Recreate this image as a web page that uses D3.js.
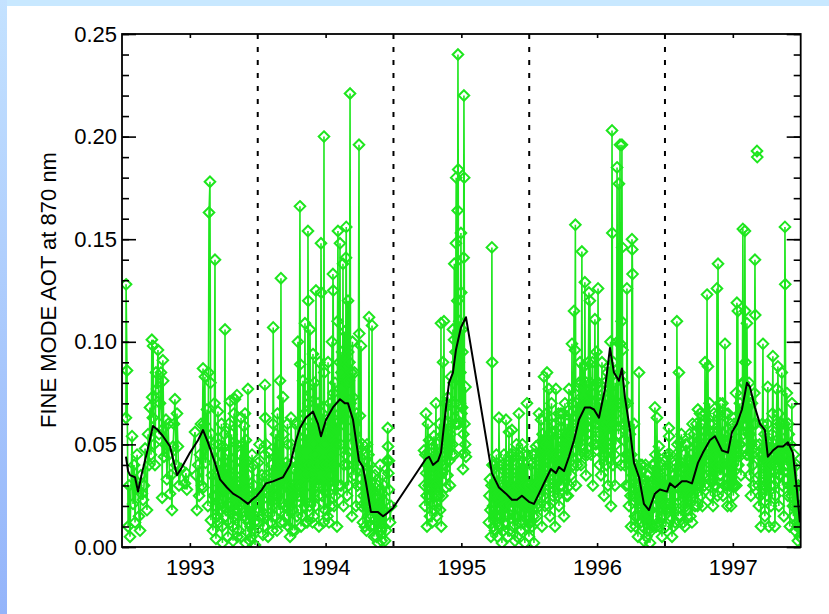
<!DOCTYPE html>
<html>
<head>
<meta charset="utf-8">
<script src="https://cdn.jsdelivr.net/npm/d3@7"></script>
<style>
  html, body { margin: 0; padding: 0; background: #fff; }
  svg { display: block; }
</style>
</head>
<body>
<svg id="chart"></svg>
<script>
// Fine mode AOT at 870 nm, daily values: [decimal year, AOT]; null = missing stretch
const fineMode = [
  [1992.529,.063],[1992.530,.128],[1992.537,.086],[1992.552,.030],[1992.559,.005],[1992.574,.054],[1992.581,.021],[1992.596,.012],[1992.603,.030],[1992.618,.028],[1992.625,.015],[1992.633,.008],[1992.647,.026],[1992.655,.023],[1992.670,.048],[1992.684,.018],[1992.699,.040],[1992.706,.068],[1992.714,.045],[1992.720,.101],[1992.722,.073],[1992.727,.063],[1992.729,.098],[1992.743,.040],[1992.758,.077],[1992.765,.096],[1992.773,.055],[1992.780,.070],[1992.787,.085],[1992.794,.057],[1992.796,.024],[1992.801,.091],[1992.803,.081],[1992.809,.044],[1992.817,.050],[1992.824,.062],[1992.831,.033],[1992.846,.045],[1992.854,.026],[1992.868,.018],[1992.876,.049],[1992.890,.072],[1992.898,.040],[1992.905,.065],[1992.912,.049],[1992.935,.038],[1992.964,.031],[1992.971,.036],[1992.978,.028],
  [1992.545,.010],[1992.589,.040],[1992.611,.045],[1992.640,.035],[1992.662,.030],[1992.692,.055],[1992.736,.050],[1992.750,.085],[1992.840,.060],[1992.861,.035],[1992.883,.060],[1992.920,.030],
  [1993.038,.056],[1993.052,.018],[1993.075,.045],[1993.089,.030],[1993.097,.087],[1993.100,.029],[1993.104,.060],[1993.111,.083],[1993.115,.041],[1993.126,.067],[1993.133,.020],[1993.141,.163],[1993.148,.178],[1993.152,.080],[1993.155,.013],[1993.163,.035],[1993.170,.008],[1993.178,.050],[1993.185,.140],[1993.189,.020],[1993.192,.004],[1993.196,.025],[1993.200,.035],[1993.207,.066],[1993.215,.012],[1993.222,.021],[1993.226,.030],[1993.229,.045],[1993.237,.010],[1993.240,.002],[1993.244,.049],[1993.251,.028],[1993.259,.106],[1993.262,.015],[1993.266,.038],[1993.270,.018],[1993.273,.033],[1993.281,.005],[1993.288,.060],[1993.292,.026],[1993.296,.071],[1993.299,.012],[1993.303,.040],[1993.310,.025],[1993.314,.010],[1993.318,.003],[1993.325,.065],[1993.332,.072],[1993.336,.035],[1993.340,.018],[1993.347,.074],[1993.354,.030],[1993.358,.015],[1993.362,.008],[1993.369,.045],[1993.377,.063],[1993.380,.005],[1993.384,.022],[1993.391,.024],[1993.395,.040],[1993.399,.059],[1993.406,.065],[1993.410,.002],[1993.413,.052],[1993.417,.041],[1993.421,.014],[1993.425,.028],[1993.428,.077],[1993.432,.012],[1993.435,.035],[1993.443,.003],[1993.447,.010],[1993.450,.020],[1993.458,.045],[1993.462,.025],[1993.465,.008],[1993.472,.030],[1993.476,.012],[1993.480,.001],[1993.487,.018],
  [1993.045,.035],[1993.060,.040],[1993.068,.025],[1993.082,.060],[1993.119,.050],[1993.137,.085],[1993.159,.055],[1993.174,.025],[1993.181,.070],[1993.203,.015],[1993.211,.050],[1993.218,.040],[1993.233,.060],[1993.248,.020],[1993.255,.055],[1993.277,.045],[1993.284,.020],[1993.307,.055],[1993.321,.030],[1993.329,.015],[1993.343,.050],[1993.351,.005],[1993.366,.030],[1993.373,.020],[1993.388,.050],[1993.402,.015],[1993.439,.020],[1993.454,.005],[1993.469,.040],[1993.483,.025],
  [1993.502,.041],[1993.510,.012],[1993.517,.018],[1993.524,.028],[1993.531,.035],[1993.538,.006],[1993.546,.010],[1993.553,.079],[1993.555,.063],[1993.561,.050],[1993.568,.020],[1993.576,.005],[1993.583,.046],[1993.590,.030],[1993.598,.012],[1993.605,.022],[1993.612,.060],[1993.614,.107],[1993.620,.025],[1993.627,.044],[1993.634,.055],[1993.642,.008],[1993.649,.040],[1993.656,.018],[1993.664,.081],[1993.671,.131],[1993.679,.022],[1993.686,.073],[1993.693,.012],[1993.701,.035],[1993.708,.041],[1993.715,.015],[1993.722,.050],[1993.730,.028],[1993.738,.005],[1993.745,.063],[1993.752,.030],[1993.760,.018],[1993.767,.038],[1993.774,.008],[1993.782,.045],[1993.789,.015],[1993.796,.100],[1993.804,.025],[1993.811,.166],[1993.813,.089],[1993.819,.010],[1993.826,.050],[1993.833,.081],[1993.841,.020],[1993.848,.109],[1993.855,.035],[1993.863,.012],[1993.870,.154],[1993.872,.120],[1993.878,.040],[1993.885,.106],[1993.892,.022],[1993.900,.060],[1993.907,.094],[1993.914,.015],[1993.922,.045],[1993.929,.125],[1993.937,.030],[1993.944,.070],[1993.951,.010],[1993.959,.055],[1993.966,.148],[1993.968,.124],[1993.973,.025],[1993.981,.040],[1993.988,.200],[1993.990,.085],[1993.996,.018],
  [1993.506,.025],[1993.513,.050],[1993.528,.015],[1993.542,.030],[1993.550,.045],[1993.565,.035],[1993.572,.015],[1993.587,.025],[1993.601,.040],[1993.609,.008],[1993.624,.015],[1993.638,.030],[1993.645,.065],[1993.653,.025],[1993.660,.050],[1993.668,.012],[1993.675,.040],[1993.690,.055],[1993.697,.020],[1993.712,.030],[1993.719,.060],[1993.727,.010],[1993.734,.040],[1993.742,.020],[1993.749,.050],[1993.756,.008],[1993.771,.025],[1993.778,.060],[1993.786,.030],[1993.793,.040],[1993.800,.060],[1993.815,.030],[1993.830,.015],[1993.837,.040],[1993.844,.065],[1993.852,.012],[1993.859,.055],[1993.867,.030],[1993.874,.070],[1993.882,.020],[1993.889,.075],[1993.896,.035],[1993.904,.012],[1993.911,.050],[1993.918,.080],[1993.926,.020],[1993.933,.060],[1993.940,.040],[1993.948,.025],[1993.955,.090],[1993.962,.030],[1993.977,.065],[1993.985,.012],[1993.993,.050],
  [1994.003,.060],[1994.010,.030],[1994.018,.090],[1994.025,.012],[1994.032,.070],[1994.040,.045],[1994.047,.100],[1994.054,.133],[1994.056,.125],[1994.062,.020],[1994.069,.080],[1994.077,.050],[1994.084,.010],[1994.088,.110],[1994.091,.154],[1994.099,.065],[1994.106,.148],[1994.113,.030],[1994.116,.085],[1994.121,.095],[1994.128,.138],[1994.136,.040],[1994.139,.105],[1994.143,.070],[1994.150,.141],[1994.152,.156],[1994.158,.025],[1994.160,.065],[1994.165,.120],[1994.167,.095],[1994.172,.081],[1994.176,.090],[1994.180,.221],[1994.184,.070],[1994.187,.050],[1994.194,.015],[1994.198,.100],[1994.202,.073],[1994.209,.035],[1994.213,.085],[1994.217,.060],[1994.220,.055],[1994.224,.020],[1994.231,.045],[1994.246,.196],[1994.248,.104],[1994.253,.064],[1994.261,.098],[1994.268,.030],[1994.275,.012],[1994.283,.036],[1994.290,.010],[1994.298,.031],[1994.305,.050],[1994.312,.015],[1994.320,.112],[1994.327,.040],[1994.334,.028],[1994.342,.108],[1994.349,.021],[1994.356,.005],[1994.364,.035],[1994.371,.018],[1994.379,.012],[1994.386,.002],[1994.393,.024],[1994.401,.040],[1994.408,.008],[1994.416,.026],[1994.423,.018],[1994.430,.030],[1994.438,.003],[1994.445,.008],[1994.452,.042],[1994.458,.058],[1994.460,.049],[1994.462,.036],[1994.465,.028],[1994.467,.042],[1994.475,.012],[1994.482,.020],
  [1994.007,.040],[1994.014,.015],[1994.021,.055],[1994.029,.035],[1994.036,.020],[1994.043,.060],[1994.051,.030],[1994.058,.075],[1994.066,.040],[1994.073,.025],[1994.080,.060],[1994.095,.030],[1994.102,.090],[1994.110,.050],[1994.125,.060],[1994.132,.020],[1994.147,.045],[1994.155,.080],[1994.163,.040],[1994.169,.030],[1994.190,.085],[1994.205,.040],[1994.228,.065],[1994.235,.030],[1994.240,.050],[1994.257,.040],[1994.264,.020],[1994.272,.050],[1994.279,.025],[1994.287,.045],[1994.294,.020],[1994.301,.008],[1994.309,.030],[1994.316,.045],[1994.323,.020],[1994.331,.010],[1994.338,.035],[1994.345,.015],[1994.353,.030],[1994.360,.010],[1994.367,.025],[1994.375,.005],[1994.382,.030],[1994.390,.015],[1994.397,.010],[1994.405,.020],[1994.412,.003],[1994.420,.035],[1994.427,.010],[1994.434,.022],
  [1994.600,null],
  [1994.725,.047],[1994.732,.020],[1994.739,.065],[1994.741,.036],[1994.747,.010],[1994.754,.060],[1994.762,.052],[1994.764,.024],[1994.769,.015],[1994.776,.040],[1994.791,.021],[1994.798,.054],[1994.806,.030],[1994.813,.070],[1994.815,.044],[1994.820,.015],[1994.828,.035],[1994.835,.025],[1994.850,.109],[1994.852,.010],[1994.857,.040],[1994.865,.090],[1994.872,.110],[1994.879,.050],[1994.887,.029],[1994.894,.060],[1994.901,.073],[1994.909,.052],[1994.911,.042],[1994.916,.030],[1994.924,.083],[1994.931,.045],[1994.938,.106],[1994.946,.101],[1994.948,.138],[1994.953,.060],[1994.960,.148],[1994.962,.180],[1994.968,.090],[1994.973,.164],[1994.975,.240],[1994.977,.184],[1994.982,.090],[1994.990,.070],[1994.997,.153],[1994.999,.124],[1995.004,.106],[1995.006,.068],[1995.012,.038],[1995.017,.141],[1995.019,.220],[1995.021,.180],[1995.025,.046],[1995.030,.078],[1995.034,.044],
  [1994.728,.030],[1994.735,.045],[1994.744,.025],[1994.750,.040],[1994.758,.030],[1994.767,.038],[1994.772,.028],[1994.780,.050],[1994.784,.012],[1994.787,.030],[1994.795,.040],[1994.802,.018],[1994.809,.045],[1994.818,.025],[1994.824,.050],[1994.831,.040],[1994.839,.060],[1994.843,.018],[1994.846,.035],[1994.861,.025],[1994.868,.055],[1994.876,.040],[1994.883,.070],[1994.890,.045],[1994.898,.035],[1994.905,.065],[1994.913,.050],[1994.920,.055],[1994.927,.070],[1994.935,.050],[1994.942,.080],[1994.950,.045],[1994.957,.095],[1994.965,.060],[1994.970,.120],[1994.980,.060],[1994.985,.110],[1994.993,.085],[1995.001,.065],[1995.008,.095],[1995.015,.055],[1995.023,.060],[1995.028,.050],
  [1995.120,null],
  [1995.203,.012],[1995.211,.033],[1995.218,.005],[1995.225,.146],[1995.227,.090],[1995.233,.020],[1995.240,.040],[1995.247,.008],[1995.255,.025],[1995.262,.015],[1995.270,.035],[1995.277,.063],[1995.284,.010],[1995.292,.030],[1995.299,.002],[1995.306,.020],[1995.314,.045],[1995.321,.012],[1995.329,.062],[1995.336,.025],[1995.343,.005],[1995.351,.056],[1995.358,.018],[1995.365,.035],[1995.373,.057],[1995.380,.010],[1995.387,.028],[1995.395,.003],[1995.402,.040],[1995.410,.015],[1995.424,.065],[1995.432,.022],[1995.439,.008],[1995.446,.035],[1995.454,.012],[1995.461,.045],[1995.468,.002],[1995.476,.020],[1995.483,.070],[1995.490,.030],
  [1995.207,.025],[1995.214,.018],[1995.222,.030],[1995.229,.040],[1995.236,.010],[1995.244,.030],[1995.251,.015],[1995.258,.045],[1995.266,.005],[1995.273,.020],[1995.281,.040],[1995.288,.015],[1995.295,.025],[1995.303,.040],[1995.310,.008],[1995.317,.030],[1995.325,.020],[1995.332,.040],[1995.340,.015],[1995.347,.030],[1995.354,.008],[1995.362,.045],[1995.369,.020],[1995.376,.030],[1995.384,.045],[1995.391,.015],[1995.398,.025],[1995.406,.050],[1995.413,.005],[1995.417,.030],[1995.421,.045],[1995.428,.012],[1995.435,.040],[1995.443,.025],[1995.450,.050],[1995.457,.020],[1995.465,.030],[1995.472,.040],[1995.480,.010],[1995.487,.045],[1995.494,.015],
  [1995.498,.005],[1995.506,.020],[1995.513,.040],[1995.520,.010],[1995.528,.030],[1995.535,.002],[1995.542,.045],[1995.550,.049],[1995.557,.015],[1995.564,.025],[1995.572,.065],[1995.579,.035],[1995.587,.062],[1995.594,.010],[1995.601,.040],[1995.609,.083],[1995.616,.020],[1995.623,.050],[1995.631,.085],[1995.638,.030],[1995.645,.077],[1995.653,.015],[1995.660,.045],[1995.668,.060],[1995.675,.025],[1995.682,.040],[1995.690,.010],[1995.697,.077],[1995.704,.035],[1995.712,.055],[1995.719,.020],[1995.726,.045],[1995.734,.065],[1995.741,.030],[1995.749,.050],[1995.756,.015],[1995.763,.070],[1995.771,.040],[1995.778,.060],[1995.785,.025],[1995.793,.077],[1995.800,.045],[1995.807,.035],[1995.815,.099],[1995.822,.055],[1995.830,.115],[1995.837,.096],[1995.840,.157],[1995.844,.030],[1995.851,.070],[1995.859,.050],[1995.866,.080],[1995.874,.090],[1995.881,.040],[1995.888,.144],[1995.896,.060],[1995.903,.088],[1995.910,.129],[1995.918,.035],[1995.925,.070],[1995.932,.055],[1995.940,.124],[1995.947,.120],[1995.955,.045],[1995.962,.075],[1995.969,.030],[1995.977,.065],[1995.984,.111],[1995.991,.050],[1995.999,.080],
  [1995.502,.030],[1995.509,.012],[1995.517,.025],[1995.524,.045],[1995.531,.015],[1995.539,.030],[1995.546,.020],[1995.553,.040],[1995.561,.030],[1995.568,.050],[1995.575,.020],[1995.583,.045],[1995.590,.030],[1995.598,.055],[1995.605,.025],[1995.612,.050],[1995.620,.035],[1995.627,.065],[1995.634,.045],[1995.642,.020],[1995.649,.055],[1995.656,.035],[1995.664,.070],[1995.671,.040],[1995.679,.055],[1995.686,.030],[1995.693,.060],[1995.701,.045],[1995.708,.025],[1995.715,.065],[1995.723,.040],[1995.730,.030],[1995.738,.055],[1995.745,.040],[1995.752,.065],[1995.760,.035],[1995.767,.050],[1995.774,.025],[1995.782,.045],[1995.789,.055],[1995.796,.030],[1995.804,.065],[1995.811,.050],[1995.818,.070],[1995.826,.040],[1995.833,.075],[1995.848,.060],[1995.855,.040],[1995.862,.065],[1995.870,.045],[1995.877,.060],[1995.885,.080],[1995.892,.050],[1995.899,.070],[1995.907,.045],[1995.914,.060],[1995.921,.080],[1995.929,.045],[1995.936,.090],[1995.943,.065],[1995.951,.080],[1995.958,.055],[1995.966,.090],[1995.973,.050],[1995.980,.070],[1995.988,.060],[1995.995,.095],
  [1996.007,.126],[1996.014,.050],[1996.021,.070],[1996.029,.035],[1996.036,.090],[1996.043,.060],[1996.051,.025],[1996.058,.080],[1996.066,.045],[1996.073,.065],[1996.080,.030],[1996.088,.088],[1996.095,.055],[1996.102,.020],[1996.110,.203],[1996.112,.153],[1996.114,.075],[1996.117,.040],[1996.124,.060],[1996.132,.030],[1996.139,.050],[1996.147,.185],[1996.154,.070],[1996.161,.177],[1996.169,.196],[1996.171,.099],[1996.176,.040],[1996.183,.196],[1996.185,.146],[1996.187,.096],[1996.191,.060],[1996.198,.052],[1996.205,.070],[1996.213,.030],[1996.220,.126],[1996.228,.045],[1996.235,.020],[1996.242,.055],[1996.250,.010],[1996.257,.150],[1996.259,.145],[1996.261,.133],[1996.264,.035],[1996.272,.060],[1996.279,.015],[1996.287,.040],[1996.294,.025],[1996.301,.005],[1996.309,.085],[1996.316,.030],[1996.323,.012],[1996.331,.040],[1996.338,.020],[1996.345,.003],[1996.353,.030],[1996.360,.015],[1996.368,.035],[1996.375,.008],[1996.382,.025],[1996.390,.002],[1996.397,.018],[1996.404,.030],[1996.412,.010],[1996.419,.040],[1996.426,.068],[1996.434,.020],[1996.441,.063],[1996.448,.012],[1996.456,.049],[1996.463,.041],[1996.471,.025],[1996.478,.005],[1996.485,.030],[1996.493,.015],
  [1996.003,.060],[1996.010,.080],[1996.018,.040],[1996.025,.055],[1996.032,.070],[1996.040,.045],[1996.047,.075],[1996.054,.050],[1996.062,.065],[1996.069,.040],[1996.077,.085],[1996.084,.050],[1996.091,.070],[1996.099,.100],[1996.106,.060],[1996.121,.090],[1996.128,.045],[1996.135,.080],[1996.143,.065],[1996.150,.100],[1996.158,.055],[1996.165,.085],[1996.173,.070],[1996.180,.110],[1996.194,.080],[1996.202,.040],[1996.209,.060],[1996.216,.045],[1996.224,.070],[1996.231,.030],[1996.239,.040],[1996.246,.025],[1996.253,.045],[1996.268,.025],[1996.276,.040],[1996.283,.010],[1996.290,.030],[1996.298,.015],[1996.305,.035],[1996.312,.020],[1996.320,.040],[1996.327,.025],[1996.334,.010],[1996.342,.030],[1996.349,.015],[1996.357,.040],[1996.364,.005],[1996.371,.020],[1996.379,.035],[1996.386,.012],[1996.393,.030],[1996.401,.008],[1996.408,.040],[1996.415,.020],[1996.423,.030],[1996.430,.045],[1996.437,.010],[1996.445,.035],[1996.452,.025],[1996.459,.010],[1996.467,.035],[1996.474,.015],[1996.482,.040],[1996.489,.020],[1996.496,.030],
  [1996.500,.042],[1996.507,.010],[1996.515,.025],[1996.522,.040],[1996.529,.058],[1996.531,.054],[1996.537,.015],[1996.544,.030],[1996.552,.005],[1996.559,.020],[1996.566,.035],[1996.574,.012],[1996.581,.045],[1996.588,.110],[1996.596,.025],[1996.603,.085],[1996.610,.051],[1996.618,.015],[1996.625,.039],[1996.633,.020],[1996.640,.045],[1996.647,.010],[1996.655,.030],[1996.662,.050],[1996.670,.018],[1996.677,.035],[1996.684,.025],[1996.692,.045],[1996.699,.012],[1996.706,.040],[1996.714,.055],[1996.721,.020],[1996.729,.050],[1996.736,.030],[1996.743,.067],[1996.750,.040],[1996.758,.065],[1996.765,.025],[1996.773,.050],[1996.780,.035],[1996.787,.060],[1996.795,.090],[1996.802,.045],[1996.810,.123],[1996.817,.088],[1996.824,.030],[1996.831,.060],[1996.839,.040],[1996.846,.055],[1996.854,.020],[1996.861,.065],[1996.868,.045],[1996.876,.030],[1996.883,.126],[1996.891,.138],[1996.898,.050],[1996.905,.070],[1996.913,.035],[1996.920,.060],[1996.928,.025],[1996.935,.055],[1996.942,.099],[1996.950,.045],[1996.957,.030],[1996.964,.065],[1996.972,.040],[1996.979,.055],[1996.987,.020],[1996.994,.050],
  [1996.504,.030],[1996.511,.020],[1996.518,.045],[1996.526,.030],[1996.533,.025],[1996.541,.045],[1996.548,.018],[1996.555,.035],[1996.563,.010],[1996.570,.040],[1996.577,.025],[1996.585,.030],[1996.592,.050],[1996.599,.015],[1996.607,.040],[1996.614,.030],[1996.621,.055],[1996.629,.030],[1996.636,.012],[1996.644,.035],[1996.651,.050],[1996.658,.020],[1996.666,.040],[1996.673,.028],[1996.681,.055],[1996.688,.015],[1996.695,.035],[1996.703,.060],[1996.710,.025],[1996.718,.040],[1996.725,.030],[1996.732,.060],[1996.740,.020],[1996.747,.050],[1996.754,.030],[1996.762,.045],[1996.769,.060],[1996.776,.020],[1996.784,.045],[1996.791,.030],[1996.798,.065],[1996.806,.035],[1996.813,.055],[1996.821,.045],[1996.828,.070],[1996.835,.025],[1996.843,.050],[1996.850,.035],[1996.857,.060],[1996.865,.030],[1996.872,.055],[1996.880,.040],[1996.887,.025],[1996.894,.065],[1996.902,.035],[1996.909,.050],[1996.916,.040],[1996.924,.070],[1996.931,.040],[1996.939,.030],[1996.946,.065],[1996.953,.050],[1996.961,.020],[1996.968,.050],[1996.975,.030],[1996.983,.060],[1996.990,.040],[1996.998,.030],
  [1997.001,.040],[1997.008,.060],[1997.015,.030],[1997.023,.075],[1997.030,.119],[1997.037,.115],[1997.045,.050],[1997.052,.070],[1997.060,.035],[1997.067,.065],[1997.074,.155],[1997.082,.080],[1997.089,.154],[1997.091,.115],[1997.097,.060],[1997.104,.109],[1997.111,.045],[1997.119,.080],[1997.126,.055],[1997.133,.025],[1997.141,.070],[1997.148,.040],[1997.155,.060],[1997.163,.140],[1997.165,.113],[1997.170,.050],
  [1997.004,.025],[1997.012,.050],[1997.019,.045],[1997.026,.030],[1997.034,.060],[1997.041,.040],[1997.048,.065],[1997.056,.050],[1997.063,.045],[1997.071,.080],[1997.078,.055],[1997.085,.060],[1997.093,.090],[1997.100,.045],[1997.108,.070],[1997.115,.055],[1997.122,.035],[1997.130,.070],[1997.137,.050],[1997.144,.045],[1997.152,.030],[1997.159,.075],[1997.168,.060],
  [1997.176,null],[1997.178,.193],[1997.180,.190],[1997.182,null],
  [1997.185,.045],[1997.192,.020],[1997.200,.035],[1997.207,.010],[1997.214,.040],[1997.222,.099],[1997.229,.030],[1997.236,.015],[1997.244,.050],[1997.251,.025],[1997.258,.078],[1997.266,.010],[1997.273,.040],[1997.281,.020],[1997.288,.055],[1997.295,.093],[1997.303,.030],[1997.310,.010],[1997.317,.045],[1997.325,.077],[1997.332,.088],[1997.339,.020],[1997.347,.060],[1997.354,.035],[1997.361,.085],[1997.369,.050],[1997.376,.015],[1997.384,.156],[1997.386,.128],[1997.391,.040],[1997.398,.075],[1997.406,.025],[1997.413,.055],[1997.420,.010],[1997.428,.035],[1997.435,.070],[1997.442,.020],[1997.450,.045],[1997.457,.008],[1997.464,.030],[1997.472,.012],[1997.479,.003],[1997.486,.020],[1997.494,.005],
  [1997.189,.030],[1997.196,.050],[1997.203,.025],[1997.211,.045],[1997.218,.060],[1997.225,.045],[1997.233,.055],[1997.240,.030],[1997.247,.040],[1997.255,.060],[1997.262,.035],[1997.269,.050],[1997.277,.030],[1997.284,.045],[1997.292,.065],[1997.299,.040],[1997.306,.050],[1997.314,.025],[1997.321,.060],[1997.328,.040],[1997.336,.065],[1997.343,.035],[1997.350,.050],[1997.358,.060],[1997.365,.030],[1997.372,.045],[1997.380,.060],[1997.394,.050],[1997.402,.040],[1997.409,.060],[1997.417,.030],[1997.424,.050],[1997.431,.025],[1997.439,.040],[1997.446,.015],[1997.453,.030],[1997.461,.020],[1997.468,.040],[1997.475,.010],[1997.483,.030],[1997.490,.010],[1997.497,.020]
]

// Running mean of the fine mode AOT
const runningMean = [
  [1992.529,.044],[1992.545,.037],[1992.559,.035],[1992.596,.034],[1992.618,.027],[1992.647,.036],[1992.684,.046],[1992.728,.059],[1992.765,.057],[1992.802,.054],[1992.854,.049],[1992.905,.035],[1992.942,.039],
  [1993.001,.046],[1993.060,.052],[1993.097,.057],[1993.133,.051],[1993.185,.041],[1993.222,.033],[1993.273,.029],[1993.318,.026],[1993.369,.024],[1993.428,.021],[1993.458,.023],[1993.494,.025],
  [1993.531,.028],[1993.561,.031],[1993.612,.032],[1993.686,.034],[1993.738,.040],[1993.782,.052],[1993.811,.058],[1993.855,.063],[1993.907,.066],[1993.944,.060],[1993.966,.054],
  [1994.003,.062],[1994.054,.068],[1994.106,.072],[1994.143,.070],[1994.165,.070],[1994.202,.062],[1994.246,.042],[1994.275,.039],[1994.298,.031],[1994.334,.017],[1994.386,.017],[1994.423,.015],[1994.445,.016],[1994.497,.019],
  [1994.739,.043],[1994.762,.044],[1994.791,.040],[1994.828,.042],[1994.850,.046],[1994.887,.068],[1994.909,.080],[1994.938,.085],[1994.960,.096],[1994.997,.107],[1995.034,.112],
  [1995.225,.036],[1995.277,.029],[1995.329,.026],[1995.373,.023],[1995.410,.023],[1995.446,.025],[1995.498,.022],
  [1995.535,.021],[1995.572,.026],[1995.623,.033],[1995.660,.038],[1995.697,.036],[1995.719,.039],[1995.756,.037],[1995.793,.044],[1995.830,.052],[1995.866,.062],[1995.910,.068],[1995.947,.068],[1995.977,.067],
  [1996.014,.063],[1996.058,.077],[1996.095,.097],[1996.124,.085],[1996.161,.081],[1996.183,.087],[1996.205,.073],[1996.242,.057],[1996.272,.041],[1996.309,.034],[1996.345,.021],[1996.382,.018],[1996.426,.026],[1996.463,.028],
  [1996.515,.027],[1996.537,.031],[1996.574,.029],[1996.625,.032],[1996.662,.032],[1996.699,.031],[1996.743,.041],[1996.780,.046],[1996.831,.052],[1996.868,.054],[1996.891,.051],[1996.920,.047],[1996.964,.046],[1996.994,.056],
  [1997.030,.060],[1997.067,.067],[1997.104,.080],[1997.126,.078],[1997.163,.068],[1997.200,.060],[1997.236,.057],[1997.258,.044],[1997.295,.047],[1997.332,.049],[1997.369,.049],[1997.406,.051],[1997.442,.046],[1997.472,.028],[1997.494,.012]
]

const yearTicks = [1993, 1994, 1995, 1996, 1997]
const seasonBreaks = [1993.5, 1994.5, 1995.5, 1996.5]
const aotTicks = [0, 0.05, 0.10, 0.15, 0.20, 0.25]
const aotMinorTicks = d3.range(0, 26).map(i => i / 100)

const width = 829
const height = 614
const plot = { left: 122, right: 800.7, top: 34, bottom: 547 }
const font = "'Liberation Sans', Arial, Helvetica, sans-serif"
const green = "#1ee61e"

const svg = d3.select("#chart")
  .attr("width", width)
  .attr("height", height)

// Page background with the blue slide edges
const defs = svg.append("defs")
const grad = defs.append("linearGradient")
  .attr("id", "edge")
  .attr("x1", 0).attr("y1", 0).attr("x2", 0).attr("y2", 1)
grad.append("stop").attr("offset", "0%").attr("stop-color", "#c4e2ff")
grad.append("stop").attr("offset", "100%").attr("stop-color", "#94b4fa")

svg.append("rect").attr("width", width).attr("height", height).attr("fill", "#fff")
svg.append("rect").attr("width", width).attr("height", 6).attr("fill", "#c8e8ff")
svg.append("rect").attr("width", 7).attr("height", height).attr("fill", "url(#edge)")

defs.append("clipPath").attr("id", "plotclip")
  .append("rect")
  .attr("x", plot.left).attr("y", plot.top)
  .attr("width", plot.right - plot.left).attr("height", plot.bottom - plot.top)

// Scales
const x = d3.scaleLinear()
  .domain([1992.5, 1997.5])
  .range([plot.left, plot.right])

const y = d3.scaleLinear()
  .domain([0, 0.25])
  .range([plot.bottom, plot.top])

// Dashed season separators
svg.append("g")
  .selectAll("line")
  .data(seasonBreaks)
  .join("line")
  .attr("x1", d => x(d)).attr("x2", d => x(d))
  .attr("y1", plot.top).attr("y2", plot.bottom)
  .attr("stroke", "#000")
  .attr("stroke-width", 2)
  .attr("stroke-dasharray", "5,8")

const sorted = d3.sort(fineMode, d => d[0])
const points = sorted.filter(d => d[1] != null)

const marks = svg.append("g").attr("clip-path", "url(#plotclip)")

// Green connecting line
marks.append("path")
  .datum(sorted)
  .attr("fill", "none")
  .attr("stroke", green)
  .attr("stroke-width", 1.6)
  .attr("d", d3.line()
    .defined(d => d[1] != null)
    .x(d => x(d[0]))
    .y(d => y(d[1])))

// Diamond symbols
marks.append("g")
  .selectAll("path")
  .data(points)
  .join("path")
  .attr("transform", d => `translate(${x(d[0])},${y(d[1])})`)
  .attr("d", "M0,-5.3L5.3,0L0,5.3L-5.3,0Z")
  .attr("fill", "none")
  .attr("stroke", green)
  .attr("stroke-width", 2)

// Running mean
marks.append("path")
  .datum(runningMean)
  .attr("fill", "none")
  .attr("stroke", "#000")
  .attr("stroke-width", 2)
  .attr("stroke-linejoin", "round")
  .attr("d", d3.line()
    .x(d => x(d[0]))
    .y(d => y(d[1])))

// Axes, all ticks point inward
const styleAxis = g => {
  g.select(".domain").remove()
  g.selectAll(".tick line").attr("stroke", "#000").attr("stroke-width", 1.6)
  g.selectAll(".tick text")
    .attr("fill", "#000")
    .attr("font-family", font)
    .attr("font-size", 22)
}

svg.append("g")
  .attr("transform", `translate(${plot.left},0)`)
  .call(d3.axisLeft(y).tickValues(aotMinorTicks).tickSize(-7).tickFormat(""))
  .call(styleAxis)

svg.append("g")
  .attr("transform", `translate(${plot.left},0)`)
  .call(d3.axisLeft(y).tickValues(aotTicks).tickSize(-14).tickPadding(5).tickFormat(d3.format(".2f")))
  .call(styleAxis)

svg.append("g")
  .attr("transform", `translate(${plot.right},0)`)
  .call(d3.axisRight(y).tickValues(aotMinorTicks).tickSize(-7).tickFormat(""))
  .call(styleAxis)

svg.append("g")
  .attr("transform", `translate(${plot.right},0)`)
  .call(d3.axisRight(y).tickValues(aotTicks).tickSize(-14).tickFormat(""))
  .call(styleAxis)

svg.append("g")
  .attr("transform", `translate(0,${plot.bottom})`)
  .call(d3.axisBottom(x).tickValues(yearTicks).tickSize(-4).tickPadding(12).tickFormat(d3.format("d")))
  .call(styleAxis)

svg.append("g")
  .attr("transform", `translate(0,${plot.top})`)
  .call(d3.axisTop(x).tickValues(yearTicks).tickSize(-4).tickFormat(""))
  .call(styleAxis)

// Frame
svg.append("rect")
  .attr("x", plot.left).attr("y", plot.top)
  .attr("width", plot.right - plot.left).attr("height", plot.bottom - plot.top)
  .attr("fill", "none")
  .attr("stroke", "#000")
  .attr("stroke-width", 1.8)

// Y axis title
svg.append("text")
  .attr("transform", `translate(56,290) rotate(-90)`)
  .attr("text-anchor", "middle")
  .attr("font-family", font)
  .attr("font-size", 22)
  .attr("fill", "#000")
  .text("FINE MODE AOT at 870 nm")
</script>
</body>
</html>
